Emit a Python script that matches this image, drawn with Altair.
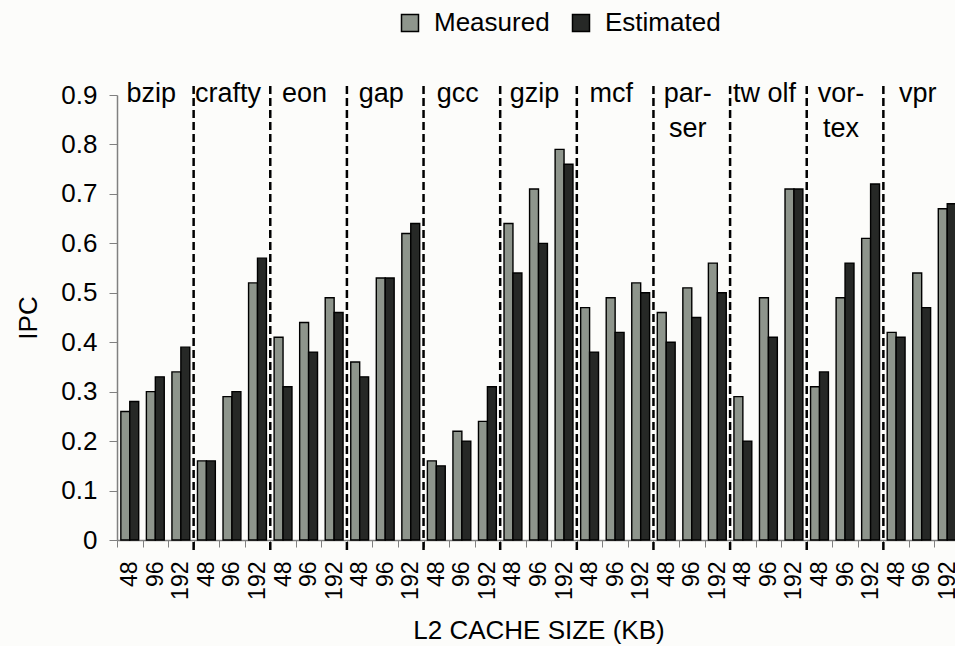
import altair as alt
import pandas as pd

# Benchmarks, L2 cache sizes (KB) and IPC per configuration
benchmarks = ["bzip", "crafty", "eon", "gap", "gcc", "gzip", "mcf", "parser", "twolf", "vortex", "vpr"]
bench_labels = ["bzip", "crafty", "eon", "gap", "gcc", "gzip", "mcf", "par-\nser", "tw olf", "vor-\ntex", "vpr"]
cache_sizes = ["48", "96", "192"]

measured = [0.26, 0.30, 0.34,  0.16, 0.29, 0.52,  0.41, 0.44, 0.49,  0.36, 0.53, 0.62,
            0.16, 0.22, 0.24,  0.64, 0.71, 0.79,  0.47, 0.49, 0.52,  0.46, 0.51, 0.56,
            0.29, 0.49, 0.71,  0.31, 0.49, 0.61,  0.42, 0.54, 0.67]
estimated = [0.28, 0.33, 0.39,  0.16, 0.30, 0.57,  0.31, 0.38, 0.46,  0.33, 0.53, 0.64,
             0.15, 0.20, 0.31,  0.54, 0.60, 0.76,  0.38, 0.42, 0.50,  0.40, 0.45, 0.50,
             0.20, 0.41, 0.71,  0.34, 0.56, 0.72,  0.41, 0.47, 0.68]

series = ["Measured", "Estimated"]
series_colors = ["#8e958c", "#262826"]
y_ticks = [0, 0.1, 0.2, 0.3, 0.4, 0.5, 0.6, 0.7, 0.8, 0.9]

keys = [f"{b}|{s}" for b in benchmarks for s in cache_sizes]

rows = []
for i, k in enumerate(keys):
    rows.append({"key": k, "series": "Measured", "ipc": measured[i]})
    rows.append({"key": k, "series": "Estimated", "ipc": estimated[i]})
bars_df = pd.DataFrame(rows)

bounds_df = pd.DataFrame({"key": [f"{b}|48" for b in benchmarks[1:]]})
labels_df = pd.DataFrame({"key": [f"{b}|96" for b in benchmarks], "label": bench_labels})

FONT = "Liberation Sans"
X_TITLE = "L2 CACHE SIZE (KB)"
x_scale = alt.Scale(domain=keys, paddingInner=0, paddingOuter=0, range=[0, 843])

bars = alt.Chart(bars_df).mark_bar(stroke="black", strokeWidth=1.4).encode(
    x=alt.X("key:N", scale=x_scale, title=X_TITLE,
            axis=alt.Axis(labelExpr="split(datum.value, '|')[1]", labelAngle=270,
                          labelFontSize=23, labelPadding=14, labelOverlap=False,
                          tickBand="extent", tickSize=7, tickColor="#808080",
                          domainColor="#808080", domainWidth=1.5,
                          titleFontSize=26, titleFontWeight="normal", titlePadding=18)),
    xOffset=alt.XOffset("series:N", sort=series,
                        scale=alt.Scale(paddingInner=0, paddingOuter=0.43)),
    y=alt.Y("ipc:Q", scale=alt.Scale(domain=[0, 0.9], nice=False), title="IPC",
            axis=alt.Axis(values=y_ticks, grid=False,
                          labelExpr="datum.value == 0 ? '0' : format(datum.value, '.1f')",
                          labelFontSize=26, labelPadding=12, tickSize=8,
                          tickColor="#808080", domainColor="#808080", domainWidth=1.5,
                          titleFontSize=26, titleFontWeight="normal", titlePadding=19)),
    color=alt.Color("series:N", sort=series,
                    scale=alt.Scale(domain=series, range=series_colors),
                    legend=alt.Legend(title=None, orient="none", direction="horizontal",
                                      legendX=280, legendY=-85, symbolType="square",
                                      symbolSize=289, symbolStrokeColor="black",
                                      symbolStrokeWidth=1.5, labelFontSize=26,
                                      labelOffset=11, columnPadding=18)),
)

# dashed separators between benchmarks
separators = alt.Chart(bounds_df).mark_rule(
    color="black", strokeWidth=2.5, strokeDash=[8, 4]
).encode(
    x=alt.X("key:N", scale=x_scale, bandPosition=0, title=X_TITLE),
    y=alt.value(-9),
    y2=alt.value(457),
)

names = alt.Chart(labels_df).mark_text(
    font=FONT, fontSize=27, align="center", baseline="alphabetic",
    lineBreak="\n", lineHeight=35, dx=-4, color="black"
).encode(
    x=alt.X("key:N", scale=x_scale, bandPosition=0.5, title=X_TITLE),
    y=alt.value(7),
    text="label:N",
)

chart = alt.layer(bars, separators, names).properties(
    width=838,
    height=445,
    autosize=alt.AutoSizeParams(type="none"),
    padding={"left": 117, "top": 95, "right": 0, "bottom": 106},
    background="#fcfcfa",
).configure(
    font=FONT,
).configure_view(
    strokeWidth=0,
).configure_axis(
    labelFont=FONT, titleFont=FONT, labelColor="black", titleColor="black",
).configure_legend(
    labelFont=FONT, labelColor="black",
)

chart.save("out.html", embed_options={"renderer": "svg", "actions": False})
